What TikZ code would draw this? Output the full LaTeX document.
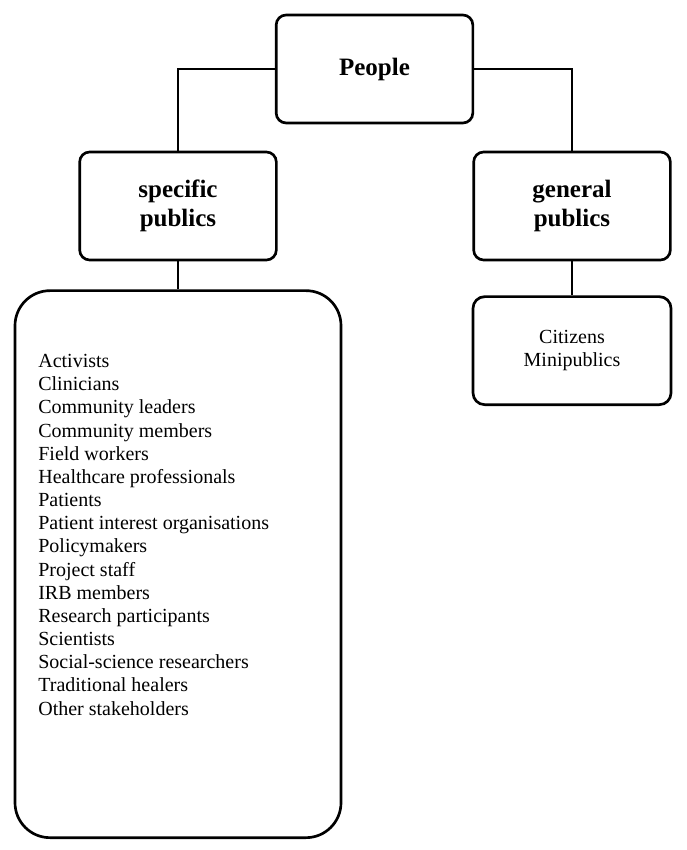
\documentclass[tikz,border=0pt]{standalone}
\usepackage{fontspec}
\setmainfont{Liberation Serif}
\usetikzlibrary{positioning}

\begin{document}
\begin{tikzpicture}[
  font=\fontsize{12}{13.9}\selectfont,
  line width=1.6pt,
  headbox/.style={draw,rounded corners=6pt,align=center,minimum width=118pt,minimum height=64.8pt,font=\fontsize{15}{17.4}\selectfont\bfseries},
  itembox/.style={draw,rounded corners=7pt,align=center,minimum width=118.8pt,minimum height=64.8pt}
]
\useasboundingbox (0,0) rectangle (411.6pt,-510pt);
\node[headbox] (people) at (224.7pt,-41.4pt) {People};
\node[headbox] (specific) at (106.8pt,-123.6pt) {specific\\publics};
\node[headbox] (general) at (343.2pt,-123.6pt) {general\\publics};
\node[itembox,below=20.4pt of general] (genlist) {Citizens\\Minipublics};
\node[draw,rounded corners=21pt,minimum width=195.6pt,minimum height=328.2pt,below=16.8pt of specific] (specbox) {};
\node[align=left,inner sep=0pt,anchor=north west] (speclist) at (22.2pt,-211.8pt) {Activists\\Clinicians\\Community leaders\\Community members\\Field workers\\Healthcare professionals\\Patients\\Patient interest organisations\\Policymakers\\Project staff\\IRB members\\Research participants\\Scientists\\Social-science researchers\\Traditional healers\\Other stakeholders};
\draw (people.west) -| (specific.north);
\draw (people.east) -| (general.north);
\draw (specific.south) -- (specbox.north);
\draw (general.south) -- (genlist.north);
\end{tikzpicture}
\end{document}
